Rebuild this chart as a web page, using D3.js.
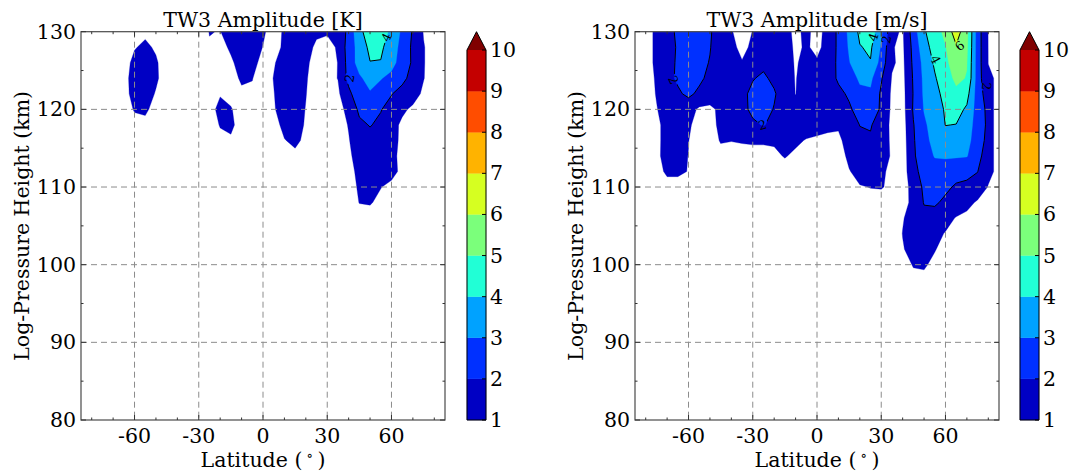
<!DOCTYPE html>
<html>
<head>
<meta charset="utf-8">
<script src="https://cdn.jsdelivr.net/npm/d3@7"></script>
<style>
  body { margin: 0; background: #fff; }
  svg text { font-family: "DejaVu Serif", serif; fill: #000; }
</style>
</head>
<body>
<svg id="fig" width="1074" height="474"></svg>
<script>
// Grid coordinates of the amplitude fields
const latitudes = [-80,-75,-70,-65,-60,-55,-50,-45,-40,-35,-30,-25,-20,-15,-10,-5,0,5,10,15,20,25,30,35,40,45,50,55,60,65,70,75,80];
const heights = [130,128,126,124,122,120,118,116,114,112,110,108,106,104,102,100,98];

// Temperature amplitude [K], one row per height
const tempAmp = [
  [0.4,0.5,0.6,0.7,0.8,0.85,0.8,0.6,0.5,0.55,0.7,1.02,0.98,1.3,1.5,1.4,1.1,0.7,1.1,1.4,1.3,1.1,1.05,1.2,2.3,3.75,4.5,4.45,3.8,2.8,1.9,0.95,0.5],
  [0.4,0.5,0.65,0.75,0.95,1.15,0.9,0.6,0.5,0.5,0.65,0.95,0.8,1.1,1.4,1.35,0.98,0.6,1.2,1.35,1.2,0.9,0.85,1.05,2.5,3.35,4.25,4.2,3.45,2.7,1.8,1.05,0.6],
  [0.4,0.5,0.7,0.7,1.2,1.3,1.1,0.6,0.5,0.5,0.6,0.8,0.75,0.9,1.25,1.2,0.8,0.95,1.25,1.35,1.1,0.8,0.8,1.01,2.4,3.4,3.97,3.95,3.3,2.6,1.85,1.05,0.6],
  [0.4,0.5,0.65,0.8,1.25,1.35,1.1,0.7,0.5,0.5,0.55,0.7,0.7,0.8,1.08,1.02,0.7,1.02,1.3,1.35,1.05,0.75,0.75,1.02,2.3,2.85,3.35,3.05,2.75,2.3,1.6,1.03,0.6],
  [0.4,0.5,0.6,0.8,1.2,1.3,0.95,0.6,0.5,0.5,0.5,0.7,0.95,0.8,0.9,0.9,0.7,0.98,1.3,1.3,1.02,0.7,0.7,0.85,1.75,2.65,2.9,2.6,2.05,1.6,1.35,0.85,0.55],
  [0.4,0.5,0.55,0.7,1.05,1.1,0.8,0.55,0.5,0.5,0.5,0.75,1.2,1.05,0.7,0.65,0.6,0.95,1.25,1.25,0.98,0.65,0.6,0.7,1.25,2.2,2.3,2.05,1.6,1.15,0.85,0.6,0.5],
  [0.4,0.45,0.5,0.6,0.8,0.85,0.65,0.5,0.5,0.5,0.5,0.6,1.05,1.15,0.7,0.6,0.55,0.8,1.15,1.2,0.95,0.6,0.55,0.6,1.05,1.8,2.05,1.8,1.3,0.85,0.7,0.55,0.5],
  [0.4,0.4,0.45,0.5,0.6,0.6,0.55,0.5,0.45,0.45,0.5,0.55,0.8,0.9,0.65,0.55,0.5,0.6,0.98,1.1,0.9,0.55,0.5,0.55,0.95,1.5,1.7,1.6,1.25,0.85,0.6,0.5,0.45],
  [0.35,0.4,0.4,0.45,0.5,0.5,0.5,0.45,0.45,0.45,0.45,0.5,0.6,0.65,0.55,0.5,0.5,0.55,0.7,0.9,0.8,0.5,0.45,0.5,0.85,1.35,1.55,1.45,1.25,0.75,0.5,0.45,0.4],
  [0.35,0.35,0.4,0.4,0.45,0.45,0.45,0.4,0.4,0.4,0.4,0.45,0.5,0.5,0.5,0.45,0.45,0.5,0.55,0.65,0.6,0.45,0.45,0.5,0.75,1.2,1.4,1.3,1.2,0.85,0.5,0.4,0.35],
  [0.3,0.35,0.35,0.4,0.4,0.4,0.4,0.4,0.4,0.4,0.4,0.4,0.45,0.45,0.45,0.4,0.4,0.45,0.5,0.5,0.5,0.45,0.4,0.45,0.7,1.1,1.25,1.02,0.85,0.6,0.45,0.4,0.35],
  [0.3,0.3,0.35,0.35,0.35,0.35,0.35,0.35,0.35,0.35,0.35,0.4,0.4,0.4,0.4,0.4,0.4,0.4,0.45,0.45,0.45,0.4,0.4,0.45,0.6,1.02,1.05,0.85,0.7,0.5,0.4,0.35,0.3],
  [0.3,0.3,0.3,0.3,0.35,0.35,0.35,0.35,0.35,0.35,0.35,0.35,0.35,0.4,0.4,0.4,0.4,0.4,0.4,0.4,0.4,0.4,0.4,0.4,0.5,0.7,0.75,0.6,0.5,0.45,0.4,0.35,0.3],
  [0.3,0.3,0.3,0.3,0.3,0.3,0.3,0.3,0.3,0.3,0.3,0.3,0.35,0.35,0.35,0.35,0.35,0.35,0.35,0.35,0.35,0.35,0.35,0.35,0.4,0.55,0.6,0.5,0.4,0.35,0.35,0.3,0.3],
  [0.25,0.25,0.25,0.25,0.3,0.3,0.3,0.3,0.3,0.3,0.3,0.3,0.3,0.3,0.3,0.3,0.3,0.3,0.3,0.3,0.3,0.3,0.3,0.3,0.35,0.45,0.5,0.45,0.35,0.3,0.3,0.25,0.25],
  [0.25,0.25,0.25,0.25,0.25,0.25,0.25,0.25,0.25,0.25,0.25,0.25,0.25,0.25,0.25,0.25,0.25,0.25,0.25,0.25,0.25,0.25,0.25,0.3,0.3,0.4,0.4,0.35,0.3,0.25,0.25,0.25,0.25],
  [0.2,0.2,0.2,0.2,0.2,0.2,0.2,0.2,0.2,0.2,0.2,0.2,0.2,0.2,0.2,0.2,0.2,0.2,0.2,0.2,0.2,0.2,0.2,0.25,0.25,0.3,0.3,0.3,0.25,0.2,0.2,0.2,0.2]
];

// Zonal wind amplitude [m/s], one row per height
const windAmp = [
  [0.6,1.2,1.7,2.15,2.4,2.4,2.1,1.5,1.05,0.7,1.02,1.4,1.5,1.3,0.8,1.2,0.7,1.3,2.2,3.2,4.2,4.6,3.2,1.2,0.9,2.5,3.9,4.5,5.3,6.5,5.3,2.5,0.97],
  [0.6,1.2,1.6,2.1,2.4,2.35,2.05,1.4,1.2,0.8,1.15,1.5,1.5,1.4,0.85,1.1,0.8,1.3,2.2,3.1,3.95,4.15,2.9,1.05,0.85,2.3,3.6,4.4,4.95,5.9,5.2,2.5,0.98],
  [0.6,1.2,1.6,2.15,2.4,2.3,1.95,1.3,1.2,1.05,1.2,1.8,1.7,1.5,0.9,1.3,1.1,1.4,2.2,2.95,3.6,3.95,2.6,1.1,0.8,2.2,3.3,4.15,4.8,5.5,5.05,2.5,0.99],
  [0.6,1.1,1.7,2.15,2.4,2.2,1.75,1.3,1.3,1.4,1.95,2.15,1.8,1.5,0.95,1.5,1.4,1.5,2.15,2.7,3.1,3.2,2.1,0.95,0.75,2.1,3.2,3.9,4.6,5.2,4.95,2.5,1.1],
  [0.55,1.05,1.5,1.85,2.2,1.8,1.5,1.3,1.35,1.8,2.2,2.3,2.1,1.5,0.98,1.6,1.55,1.6,1.75,2.15,2.85,2.85,1.85,0.85,0.7,2.05,3.15,3.7,4.3,4.8,4.35,2.5,1.5],
  [0.55,0.95,1.4,1.6,1.4,0.85,0.8,1.2,1.3,1.75,2.2,2.35,1.95,1.4,1.2,1.6,1.6,1.6,1.6,1.85,2.4,2.4,1.9,0.8,0.65,2.1,3.05,3.55,4.1,4.35,3.85,2.55,1.75],
  [0.5,0.8,1.3,1.5,1.15,0.6,0.7,1.2,1.3,1.6,1.85,2.05,1.75,1.35,1.3,1.4,1.35,1.2,1.1,1.5,2.02,2.1,1.4,0.85,0.6,1.95,2.85,3.4,4.02,3.98,3.5,2.55,1.8],
  [0.5,0.8,1.3,1.4,1.02,0.5,0.7,1.05,1.02,1.05,1.08,1.08,1.1,1.2,1.15,0.95,0.85,0.8,0.85,1.3,1.8,1.85,1.3,0.9,0.55,1.9,2.7,3.3,3.6,3.6,3.3,2.5,1.7],
  [0.45,0.85,1.25,1.3,0.98,0.5,0.6,0.8,0.75,0.8,0.8,0.8,0.85,1.05,0.85,0.7,0.65,0.6,0.6,1.2,1.5,1.5,1.2,0.95,0.5,1.85,2.6,3.05,3.1,3.1,3.05,2.3,1.5],
  [0.4,0.7,1.15,1.1,0.98,0.5,0.5,0.6,0.6,0.6,0.6,0.65,0.65,0.7,0.65,0.55,0.5,0.5,0.5,0.95,1.3,1.3,1.15,0.8,0.5,1.75,2.3,2.65,2.6,2.3,2.25,2.02,1.25],
  [0.35,0.5,0.7,0.8,0.9,0.45,0.45,0.5,0.5,0.5,0.5,0.5,0.5,0.55,0.5,0.5,0.45,0.45,0.45,0.7,0.95,1.02,1.05,0.85,0.45,1.45,2.15,2.3,2.15,1.9,1.8,1.65,0.95],
  [0.3,0.4,0.5,0.55,0.6,0.4,0.4,0.4,0.4,0.4,0.4,0.4,0.4,0.4,0.4,0.4,0.4,0.4,0.4,0.5,0.7,0.75,0.7,0.5,0.6,1.3,2.05,2.1,1.85,1.55,1.3,0.87,0.6],
  [0.3,0.35,0.4,0.45,0.5,0.35,0.35,0.35,0.35,0.35,0.35,0.35,0.35,0.35,0.35,0.35,0.35,0.35,0.35,0.4,0.5,0.5,0.5,0.5,0.95,1.3,1.75,1.7,1.3,0.95,0.75,0.6,0.45],
  [0.3,0.3,0.35,0.4,0.4,0.3,0.3,0.3,0.3,0.3,0.3,0.3,0.3,0.3,0.3,0.3,0.3,0.3,0.3,0.35,0.4,0.4,0.4,0.5,1.02,1.3,1.35,1.25,0.95,0.7,0.55,0.5,0.4],
  [0.25,0.3,0.3,0.35,0.35,0.3,0.3,0.3,0.3,0.3,0.3,0.3,0.3,0.3,0.3,0.3,0.3,0.3,0.3,0.3,0.35,0.35,0.35,0.45,0.95,1.25,1.25,1.05,0.7,0.55,0.45,0.4,0.35],
  [0.25,0.25,0.3,0.3,0.3,0.25,0.25,0.25,0.25,0.25,0.25,0.25,0.25,0.25,0.25,0.25,0.25,0.25,0.25,0.3,0.3,0.3,0.3,0.4,0.7,1.05,1.1,0.8,0.6,0.45,0.4,0.35,0.3],
  [0.2,0.2,0.25,0.25,0.25,0.2,0.2,0.2,0.2,0.2,0.2,0.2,0.2,0.2,0.2,0.2,0.2,0.2,0.2,0.25,0.25,0.25,0.25,0.35,0.5,0.8,0.8,0.6,0.45,0.4,0.35,0.3,0.25]
];

// Filled contour levels and their band colours (jet), plus the "above max" colour
const levels = [1,2,3,4,5,6,7,8,9,10];
const bandColors = ["#0000c4","#0030ff","#00a2ff","#21ffd6","#7bff7b","#d6ff21","#ffb300","#ff4d00","#c40000"];
const overColor = "#800000";
const lineLevels = [2,4,6,8,10];

// Axis ticks
const xTicks = [-60,-30,0,30,60];
const xMinorTicks = [-80,-70,-50,-40,-20,-10,10,20,40,50,70,80];
const yTicks = [80,90,100,110,120,130];
const yMinorTicks = [85,95,105,115,125];

// Inline contour labels: position (lat, height), level text, rotation
const tempLabels = [
  {lat: 40.4, h: 124.0, text: "2", angle: -80},
  {lat: 57.6, h: 129.3, text: "4", angle: -65}
];
const windLabels = [
  {lat: -67.0, h: 123.8, text: "2", angle: 65},
  {lat: -25.5, h: 118.0, text: "2", angle: -15},
  {lat: 26.2, h: 129.3, text: "4", angle: -72},
  {lat: 32.4, h: 129.0, text: "2", angle: -80},
  {lat: 55.4, h: 126.4, text: "4", angle: 62},
  {lat: 66.6, h: 128.2, text: "6", angle: -40},
  {lat: 79.2, h: 123.0, text: "2", angle: 95}
];

const panels = [
  {title: "TW3 Amplitude [K]", values: tempAmp, labels: tempLabels, x0: 81, x1: 445, cbx: 467},
  {title: "TW3 Amplitude [m/s]", values: windAmp, labels: windLabels, x0: 635, x1: 999, cbx: 1020}
];

const plotTop = 31.7, plotBottom = 420;
const cbTop = 50, cbW = 19;
const fontSize = 20.5;
const svg = d3.select("#fig");
const defs = svg.append("defs");

panels.forEach((p, k) => {
  const x = d3.scaleLinear().domain([-85, 85]).range([p.x0, p.x1]);
  const y = d3.scaleLinear().domain([80, 130]).range([plotBottom, plotTop]);
  const n = latitudes.length, m = heights.length;
  // contour grid coordinates -> data coordinates (sample i sits at i + 0.5)
  const gx = d3.scaleLinear().domain([0.5, n - 0.5]).range([latitudes[0], latitudes[n - 1]]);
  const gy = d3.scaleLinear().domain([0.5, m - 0.5]).range([heights[0], heights[m - 1]]);
  const proj = d3.geoTransform({
    point(px, py) { this.stream.point(x(gx(px)), y(gy(py))); }
  });
  const path = d3.geoPath(proj);
  const flat = p.values.flat();

  const clipId = "clip" + k;
  defs.append("clipPath").attr("id", clipId)
    .append("rect").attr("x", p.x0).attr("y", plotTop)
    .attr("width", p.x1 - p.x0).attr("height", plotBottom - plotTop);

  const g = svg.append("g");

  // filled bands
  const fills = d3.contours().size([n, m]).thresholds(levels)(flat);
  g.append("g").attr("clip-path", `url(#${clipId})`)
    .selectAll("path").data(fills).join("path")
    .attr("d", path)
    .attr("fill", (d, i) => i < bandColors.length ? bandColors[i] : overColor)
    .attr("stroke", (d, i) => i < bandColors.length ? bandColors[i] : overColor)
    .attr("stroke-width", 0.3);

  // grid
  const grid = g.append("g").attr("stroke", "#8c8c8c").attr("stroke-width", 1)
    .attr("stroke-dasharray", "6,4").attr("fill", "none");
  xTicks.forEach(t => grid.append("line")
    .attr("x1", x(t)).attr("x2", x(t)).attr("y1", plotTop).attr("y2", plotBottom));
  yTicks.filter(t => t > 80 && t < 130).forEach(t => grid.append("line")
    .attr("x1", p.x0).attr("x2", p.x1).attr("y1", y(t)).attr("y2", y(t)));

  // contour lines, broken where the inline labels sit
  const maskId = "mask" + k;
  const mask = defs.append("mask").attr("id", maskId).attr("maskUnits", "userSpaceOnUse");
  mask.append("rect").attr("x", 0).attr("y", 0).attr("width", 1074).attr("height", 474).attr("fill", "#fff");
  p.labels.forEach(l => mask.append("circle")
    .attr("cx", x(l.lat)).attr("cy", y(l.h)).attr("r", 6).attr("fill", "#000"));
  const lines = d3.contours().size([n, m]).thresholds(lineLevels)(flat);
  g.append("g").attr("clip-path", `url(#${clipId})`)
    .append("g").attr("mask", `url(#${maskId})`)
    .selectAll("path").data(lines).join("path")
    .attr("d", path).attr("fill", "none").attr("stroke", "#000").attr("stroke-width", 1);

  g.append("g").selectAll("text").data(p.labels).join("text")
    .attr("transform", l => `translate(${x(l.lat)},${y(l.h)}) rotate(${l.angle})`)
    .attr("text-anchor", "middle").attr("dominant-baseline", "central")
    .attr("font-size", 12.5).text(l => l.text);

  // frame
  g.append("rect").attr("x", p.x0).attr("y", plotTop)
    .attr("width", p.x1 - p.x0).attr("height", plotBottom - plotTop)
    .attr("fill", "none").attr("stroke", "#4a4a4a").attr("stroke-width", 1.2);

  // inward ticks on all four sides
  const tk = g.append("g").attr("stroke", "#333").attr("stroke-width", 1);
  const xt = (t, len) => {
    tk.append("line").attr("x1", x(t)).attr("x2", x(t)).attr("y1", plotBottom).attr("y2", plotBottom - len);
    tk.append("line").attr("x1", x(t)).attr("x2", x(t)).attr("y1", plotTop).attr("y2", plotTop + len);
  };
  const yt = (t, len) => {
    tk.append("line").attr("x1", p.x0).attr("x2", p.x0 + len).attr("y1", y(t)).attr("y2", y(t));
    tk.append("line").attr("x1", p.x1).attr("x2", p.x1 - len).attr("y1", y(t)).attr("y2", y(t));
  };
  xTicks.forEach(t => xt(t, 5));
  xMinorTicks.forEach(t => xt(t, 2.5));
  yTicks.forEach(t => yt(t, 5));
  yMinorTicks.forEach(t => yt(t, 2.5));

  // tick labels
  g.append("g").selectAll("text").data(xTicks).join("text")
    .attr("x", t => x(t)).attr("y", 443).attr("text-anchor", "middle")
    .attr("font-size", fontSize).text(t => t);
  g.append("g").selectAll("text").data(yTicks).join("text")
    .attr("x", p.x0 - 5).attr("y", t => y(t)).attr("text-anchor", "end")
    .attr("dominant-baseline", "central").attr("font-size", fontSize).text(t => t);

  // titles and axis labels
  const cx = (p.x0 + p.x1) / 2;
  g.append("text").attr("x", cx).attr("y", 27).attr("text-anchor", "middle")
    .attr("font-size", fontSize).text(p.title);
  const xl = g.append("text").attr("x", cx).attr("y", 467).attr("text-anchor", "middle")
    .attr("font-size", fontSize);
  xl.append("tspan").text("Latitude (\u2009");
  xl.append("tspan").attr("font-size", 14).attr("dy", -7).text("\u2218");
  xl.append("tspan").attr("dy", 7).text("\u2009)");
  g.append("text").attr("transform", `translate(${p.x0 - 52},${(plotTop + plotBottom) / 2}) rotate(-90)`)
    .attr("text-anchor", "middle").attr("font-size", fontSize).text("Log-Pressure Height (km)");

  // colour bar
  const cy = d3.scaleLinear().domain([levels[0], levels[levels.length - 1]]).range([plotBottom, cbTop]);
  const cb = g.append("g");
  bandColors.forEach((c, i) => cb.append("rect")
    .attr("x", p.cbx).attr("y", cy(levels[i + 1]))
    .attr("width", cbW).attr("height", cy(levels[i]) - cy(levels[i + 1]))
    .attr("fill", c).attr("stroke", c).attr("stroke-width", 0.3));
  cb.append("path")
    .attr("d", `M${p.cbx},${cbTop}L${p.cbx + cbW / 2},${plotTop}L${p.cbx + cbW},${cbTop}Z`)
    .attr("fill", overColor);
  cb.append("path")
    .attr("d", `M${p.cbx},${plotBottom}L${p.cbx},${cbTop}L${p.cbx + cbW / 2},${plotTop}L${p.cbx + cbW},${cbTop}L${p.cbx + cbW},${plotBottom}Z`)
    .attr("fill", "none").attr("stroke", "#000").attr("stroke-width", 1);
  levels.forEach(v => cb.append("line")
    .attr("x1", p.cbx + cbW).attr("x2", p.cbx + cbW - 4)
    .attr("y1", cy(v)).attr("y2", cy(v)).attr("stroke", "#000"));
  cb.append("g").selectAll("text").data(levels).join("text")
    .attr("x", p.cbx + cbW + 4).attr("y", v => cy(v))
    .attr("dominant-baseline", "central").attr("font-size", fontSize).text(v => v);
});
</script>
</body>
</html>
